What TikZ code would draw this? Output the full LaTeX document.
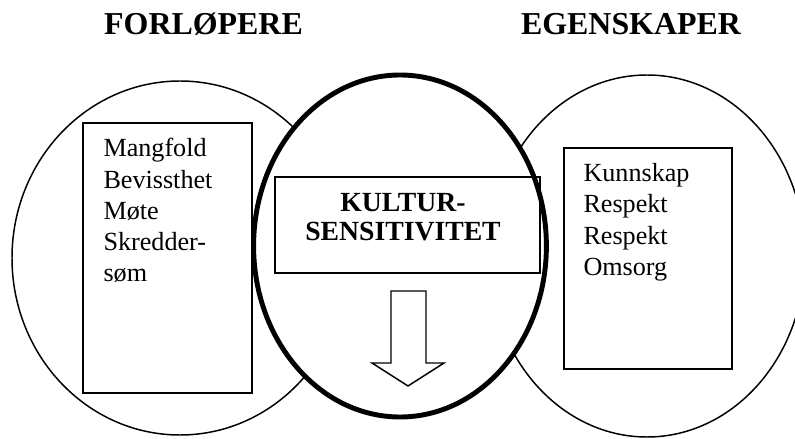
\documentclass[tikz,border=0pt]{standalone}
\usepackage{fontspec}
\setmainfont{Liberation Serif}
\usepackage{tikz}
\usetikzlibrary{positioning}

\begin{document}
\begin{tikzpicture}[
        circ/.style={line width=1.05pt},
        thickcirc/.style={line width=3.5pt, fill=white},
        listbox/.style={draw, line width=1.1pt, inner sep=0pt},
        listtext/.style={inner sep=0pt, align=left, font=\fontsize{18.6}{22.2}\selectfont},
        heading/.style={inner sep=0pt, font=\bfseries\fontsize{22.7}{26}\selectfont}
    ]
        \useasboundingbox (0,0) rectangle (19.875,-10.975);
        % the three circles
        \draw[circ] (4.5,-6.45) ellipse [x radius=4.2, y radius=4.425];
        \draw[circ] (16.175,-6.4) ellipse [x radius=3.95, y radius=4.525];
        \draw[thickcirc] (10,-6.15) ellipse [x radius=3.66, y radius=4.275];
        % headings
        \node[heading, anchor=base] (forl) at (5.0875,-0.875) {FORLØPERE};
        \node[heading, anchor=base] (egen) at (15.775,-0.875) {EGENSKAPER};
        % boxes
        \node[listbox, minimum width=4.225cm, minimum height=6.75cm] (leftbox) at (4.1875,-6.45) {};
        \node[listbox, minimum width=4.2cm, minimum height=5.525cm] (rightbox) at (16.2,-6.4625) {};
        \node[listbox, minimum width=6.625cm, minimum height=2.4cm] (midbox) at (10.1875,-5.625) {};
        \node[listtext, below right=0.4cm and 0.525cm of leftbox.north west] (lefttext)
            {Mangfold\\Bevissthet\\Møte\\Skredder-\\søm};
        \node[listtext, below right=0.4cm and 0.5cm of rightbox.north west] (righttext)
            {Kunnskap\\Respekt\\Respekt\\Omsorg};
        \node[inner sep=0pt, align=center, font=\bfseries\fontsize{19.7}{20}\selectfont] (midtext)
            at (10.075,-5.43) {KULTUR-\\SENSITIVITET};
        % arrow down
        \draw[line width=1.05pt, fill=white] (9.775,-7.275) -- (10.65,-7.275) -- (10.65,-9.075)
            -- (11.1,-9.075) -- (10.2,-9.65) -- (9.3,-9.075) -- (9.775,-9.075) -- cycle;
    \end{tikzpicture}
\end{document}
